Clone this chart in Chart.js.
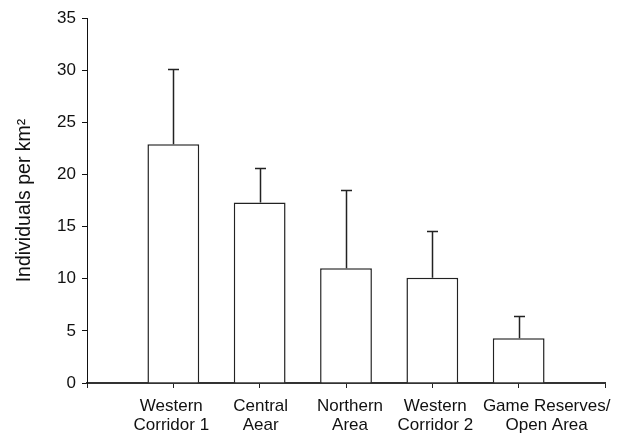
<!DOCTYPE html>
<html>
<head>
<meta charset="utf-8">
<script src="https://cdn.jsdelivr.net/npm/chart.js@4/dist/chart.umd.min.js"></script>
<style>
  html, body { margin: 0; padding: 0; background: #fff; }
  #wrap { width: 622px; height: 437px; }
</style>
</head>
<body>
<div id="wrap"><canvas id="c" width="622" height="437"></canvas></div>
<script>
// Study areas (two-line axis labels)
const areas = [
  ['Western', 'Corridor 1'],
  ['Central', 'Aear'],
  ['Northern', 'Area'],
  ['Western', 'Corridor 2'],
  ['Game Reserves/', 'Open Area']
];
// Mean density, individuals per km²
const density = [22.9, 17.3, 11.0, 10.1, 4.3];
// Upper end of the error bar (mean + SE)
const densityUpper = [30.1, 20.6, 18.5, 14.6, 6.4];
// Y axis range and step
const yMin = 0, yMax = 35, yStep = 5;

// The axis has an empty slot at each end, so pad the series
const labels = [''].concat(areas, ['']);
const means = [null].concat(density, [null]);
const uppers = [null].concat(densityUpper, [null]);

const FONT = "'Liberation Sans', Arial, Helvetica, sans-serif";

// Error bars: stem from the bar top up to the upper value, with a cap
const errorBars = {
  id: 'errorBars',
  afterDatasetsDraw(chart) {
    const { ctx, scales: { x, y } } = chart;
    ctx.save();
    ctx.strokeStyle = '#222';
    ctx.lineWidth = 1.5;
    for (let i = 0; i < means.length; i++) {
      if (means[i] == null) continue;
      const px = Math.round(x.getPixelForValue(i)) + 0.5;
      const yBar = y.getPixelForValue(means[i]);
      const yTop = Math.round(y.getPixelForValue(uppers[i])) + 0.5;
      ctx.beginPath();
      ctx.moveTo(px, yBar);
      ctx.lineTo(px, yTop);
      ctx.moveTo(px - 5.5, yTop);
      ctx.lineTo(px + 5.5, yTop);
      ctx.stroke();
    }
    ctx.restore();
  }
};

// Category captions under the x axis; the last one is set off to the right
// so it clears its neighbour.
const captionNudge = [0, -2, 1, 4, 3, 28, 0];
const xCaptions = {
  id: 'xCaptions',
  afterDraw(chart) {
    const { ctx, scales: { x } } = chart;
    ctx.save();
    ctx.fillStyle = '#111';
    ctx.font = '17px ' + FONT;
    ctx.textAlign = 'center';
    ctx.textBaseline = 'alphabetic';
    labels.forEach((lab, i) => {
      if (!Array.isArray(lab)) return;
      const px = x.getPixelForValue(i) + captionNudge[i];
      lab.forEach((line, k) => {
        ctx.fillText(line, px, x.top + 27.5 + k * 19.3);
      });
    });
    ctx.restore();
  }
};

new Chart(document.getElementById('c'), {
  type: 'bar',
  data: {
    labels: labels,
    datasets: [{
      data: means,
      backgroundColor: '#ffffff',
      borderColor: '#222',
      borderWidth: 1.5,
      categoryPercentage: 1,
      barPercentage: 0.6
    }]
  },
  options: {
    responsive: false,
    animation: false,
    devicePixelRatio: 1,
    layout: { padding: { top: 18, right: 17, bottom: 0, left: 0 } },
    plugins: {
      legend: { display: false },
      tooltip: { enabled: false }
    },
    scales: {
      x: {
        type: 'category',
        offset: false,
        grid: {
          display: true,
          offset: false,
          drawOnChartArea: false,
          drawTicks: true,
          tickLength: 5,
          color: '#222',
          lineWidth: 1
        },
        border: { display: true, color: '#333', width: 2 },
        ticks: {
          display: false,
          autoSkip: false
        },
        afterFit(scale) { scale.height = 54; }
      },
      y: {
        min: yMin,
        max: yMax,
        grid: {
          display: true,
          drawOnChartArea: false,
          drawTicks: true,
          tickLength: 5,
          color: '#111',
          lineWidth: 1
        },
        border: { display: true, color: '#111', width: 1 },
        ticks: {
          stepSize: yStep,
          color: '#111',
          font: { family: FONT, size: 17 },
          padding: 6
        },
        title: {
          display: true,
          text: 'Individuals per km²',
          color: '#111',
          font: { family: FONT, size: 19.5 },
          padding: { top: 13, bottom: 0 }
        },
        afterFit(scale) { scale.width = 87; }
      }
    }
  },
  plugins: [errorBars, xCaptions]
});
</script>
</body>
</html>
